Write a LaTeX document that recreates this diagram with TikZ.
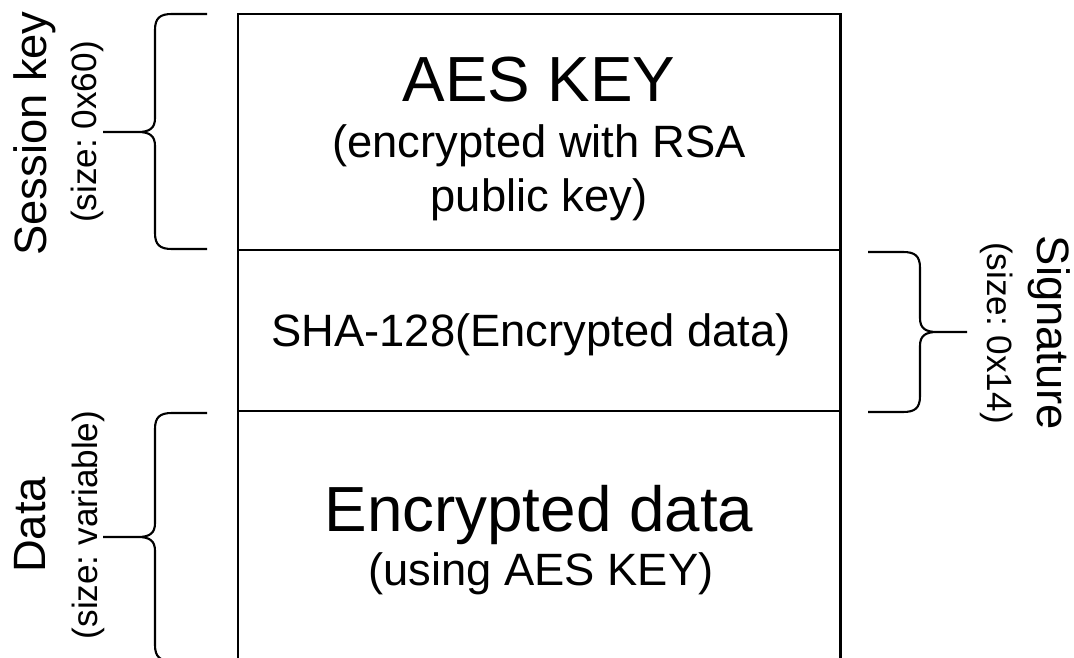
\documentclass[tikz,border=0pt]{standalone}
\usepackage{fontspec}
\setmainfont{Liberation Sans}
\frenchspacing

\begin{document}
\begin{tikzpicture}[x=0.02cm,y=-0.02cm]
    \tikzstyle{every node}+=[inner sep=0pt]
    \tikzstyle{boxline}=[black, line width=1.7pt]
    \tikzstyle{braceline}=[black, line width=1.2pt]
    \tikzstyle{bigtext}=[anchor=base, font=\fontsize{36.3}{40}\selectfont]
    \tikzstyle{midtext}=[anchor=base, font=\fontsize{25.8}{30}\selectfont]
    \tikzstyle{smalltext}=[anchor=base, font=\fontsize{20}{24}\selectfont]
    \useasboundingbox (0,0) rectangle (1074,658);
    \clip (0,0) rectangle (1074,658);
    \draw [boxline] (238,14) rectangle (840,690);
    \draw [boxline] (238,250) -- (840,250);
    \draw [boxline] (238,411) -- (840,411);
    \node [bigtext] (aesTitle) at (539,101.7) {AES KEY};
    \node [midtext] (aesSubA) at (539,158) {(encrypted with RSA};
    \node [midtext] (aesSubB) at (539,212) {public key)};
    \node [midtext] (shaText) at (531,346.7) {SHA-128(Encrypted data)};
    \node [bigtext] (dataTitle) at (539,531.7) {Encrypted data};
    \node [midtext] (dataSub) at (541,585) {(using AES KEY)};
    \node [midtext, rotate=90] (skName) at (46,133.5) {Session key};
    \node [smalltext, rotate=90] (skSize) at (96,132) {(size: 0x60)};
    \node [midtext, rotate=90] (dataName) at (45,525) {Data};
    \node [smalltext, rotate=90] (dataSize) at (97,525) {(size: variable)};
    \node [midtext, rotate=-90] (sigName) at (1037,333) {Signature};
    \node [smalltext, rotate=-90] (sigSize) at (987,333) {(size: 0x14)};
    \draw [braceline] (207,14) -- (172,14) .. controls (160,14) and (155,18) .. (155,30)
        -- (155,118) .. controls (155,128) and (150,132) .. (138,132) -- (103,132)
        (138,132) .. controls (150,132) and (155,136) .. (155,146)
        -- (155,233) .. controls (155,245) and (160,249) .. (172,249) -- (207,249);
    \draw [braceline] (207,413) -- (172,413) .. controls (160,413) and (155,417) .. (155,429)
        -- (155,523) .. controls (155,533) and (150,537) .. (138,537) -- (103,537)
        (138,537) .. controls (150,537) and (155,541) .. (155,551)
        -- (155,645) .. controls (155,657) and (160,661) .. (172,661) -- (207,661);
    \draw [braceline] (868,252) -- (903,252) .. controls (915,252) and (920,256) .. (920,268)
        -- (920,318) .. controls (920,328) and (925,332) .. (937,332) -- (967,332)
        (937,332) .. controls (925,332) and (920,336) .. (920,346)
        -- (920,396) .. controls (920,408) and (915,412) .. (903,412) -- (868,412);
\end{tikzpicture}
\end{document}
